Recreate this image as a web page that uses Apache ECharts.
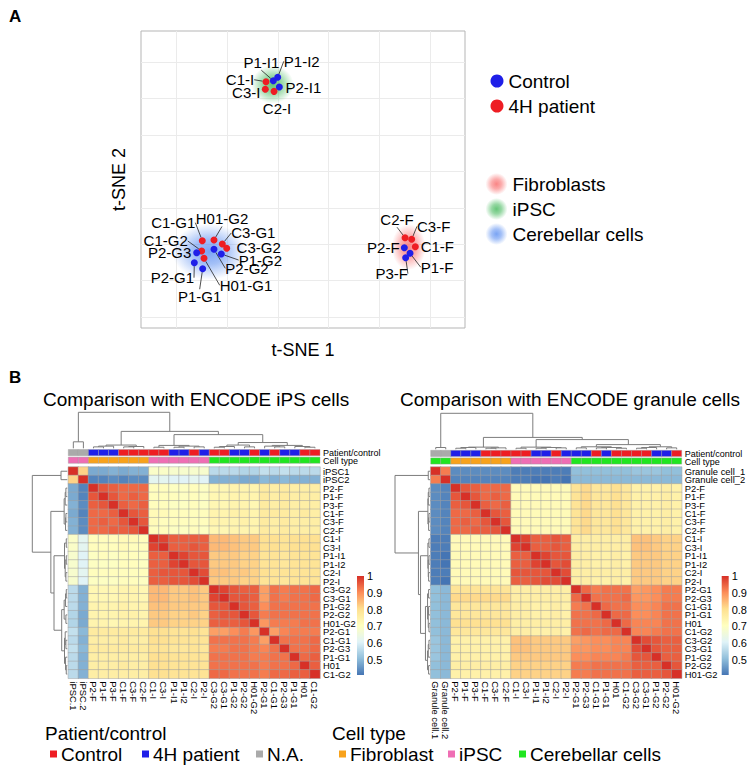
<!DOCTYPE html>
<html><head><meta charset="utf-8">
<script src="https://cdn.jsdelivr.net/npm/echarts@6/dist/echarts.min.js"></script>
<style>html,body{margin:0;padding:0;background:#fff}#c{width:750px;height:765px}</style>
</head><body><div id="c"></div>
<script>
// ================= DATA =================
// Panel A: t-SNE
const tsneNames = ['C1-I','P1-I1','P1-I2','P2-I1','C3-I','C2-I',
  'C1-G1','H01-G2','C3-G1','C3-G2','C1-G2','P2-G3','P2-G2','P1-G2','H01-G1','P2-G1','P1-G1',
  'C2-F','C3-F','C1-F','P2-F','P1-F','P3-F'];
const tsneX = [8.84,9.56,9.99,10.15,8.77,9.63,
  2.58,3.73,4.55,4.98,2.52,2.03,3.73,4.45,2.75,1.80,2.62,
  22.50,23.15,23.51,22.43,22.99,22.56];
const tsneY = [32.32,32.46,32.93,31.59,31.28,31.00,
  10.48,10.58,10.03,9.44,9.07,8.83,9.30,8.65,8.06,7.46,6.63,
  10.89,10.67,9.66,9.52,8.75,8.15];
const tsneGroup = ['Control','4H patient','4H patient','4H patient','Control','Control',
  'Control','Control','Control','Control','Control','4H patient','4H patient','4H patient','Control','4H patient','4H patient',
  'Control','Control','Control','4H patient','4H patient','4H patient'];
const tsneCellType = ['iPSC','iPSC','iPSC','iPSC','iPSC','iPSC',
  'Cerebellar cells','Cerebellar cells','Cerebellar cells','Cerebellar cells','Cerebellar cells','Cerebellar cells',
  'Cerebellar cells','Cerebellar cells','Cerebellar cells','Cerebellar cells','Cerebellar cells',
  'Fibroblasts','Fibroblasts','Fibroblasts','Fibroblasts','Fibroblasts','Fibroblasts'];
const tsneGridX = [0,5,10,15,20,25];
const tsneGridY = [0,5,10,15,20,25,30,35];

// Panel B: heatmaps (lower triangles of symmetric correlation matrices)
const rowsL = ['iPSC1','iPSC2','P2-F','P1-F','P3-F','C1-F','C3-F','C2-F','C1-I','C3-I','P1-I1','P1-I2','C2-I','P2-I',
  'C3-G2','C3-G1','P1-G2','P2-G2','H01-G2','P2-G1','C1-G1','P2-G3','P1-G1','H01','C1-G2'];
const colsL = ['iPSC.1','iPSC.2','P2-F','P1-F','P3-F','C1-F','C3-F','C2-F','C1-I','C3-I','P1-I1','P1-I2','C2-I','P2-I',
  'C3-G2','C3-G1','P1-G2','P2-G2','H01-G2','P2-G1','C1-G1','P2-G3','P1-G1','H01','C1-G2'];
const heatL = [
 [1],
 [0.82,1],
 [0.48,0.43,1],
 [0.48,0.43,0.96,1],
 [0.49,0.44,0.95,0.96,1],
 [0.48,0.43,0.94,0.94,0.95,1],
 [0.49,0.44,0.94,0.95,0.94,0.96,1],
 [0.49,0.44,0.94,0.94,0.95,0.95,0.96,1],
 [0.69,0.62,0.71,0.71,0.71,0.72,0.72,0.71,1],
 [0.69,0.62,0.71,0.71,0.71,0.72,0.71,0.71,0.98,1],
 [0.68,0.61,0.70,0.71,0.70,0.71,0.71,0.70,0.95,0.95,1],
 [0.68,0.61,0.70,0.70,0.70,0.71,0.71,0.70,0.95,0.95,0.98,1],
 [0.68,0.62,0.71,0.71,0.71,0.71,0.71,0.71,0.95,0.96,0.96,0.96,1],
 [0.68,0.61,0.70,0.70,0.70,0.71,0.71,0.70,0.95,0.95,0.96,0.96,0.97,1],
 [0.56,0.49,0.73,0.73,0.73,0.74,0.74,0.73,0.85,0.85,0.83,0.83,0.84,0.83,1],
 [0.56,0.49,0.73,0.73,0.73,0.74,0.74,0.73,0.85,0.85,0.83,0.83,0.84,0.83,0.98,1],
 [0.56,0.49,0.74,0.74,0.74,0.75,0.74,0.74,0.84,0.84,0.83,0.83,0.83,0.83,0.96,0.96,1],
 [0.55,0.48,0.74,0.74,0.74,0.75,0.75,0.74,0.83,0.83,0.82,0.82,0.83,0.82,0.95,0.96,0.96,1],
 [0.55,0.48,0.74,0.74,0.73,0.74,0.74,0.74,0.83,0.83,0.82,0.82,0.82,0.82,0.95,0.95,0.95,0.96,1],
 [0.57,0.50,0.77,0.77,0.77,0.77,0.77,0.77,0.80,0.80,0.79,0.79,0.80,0.79,0.88,0.88,0.90,0.92,0.89,1],
 [0.56,0.49,0.76,0.76,0.76,0.77,0.76,0.76,0.80,0.80,0.79,0.79,0.79,0.79,0.93,0.93,0.93,0.93,0.92,0.88,1],
 [0.57,0.50,0.77,0.77,0.77,0.77,0.77,0.77,0.79,0.79,0.78,0.78,0.79,0.78,0.92,0.92,0.93,0.93,0.92,0.91,0.93,1],
 [0.56,0.49,0.76,0.76,0.76,0.76,0.76,0.76,0.80,0.80,0.79,0.79,0.79,0.79,0.93,0.93,0.93,0.93,0.92,0.92,0.93,0.93,1],
 [0.56,0.49,0.76,0.76,0.76,0.77,0.76,0.76,0.80,0.80,0.79,0.79,0.79,0.79,0.93,0.93,0.93,0.93,0.93,0.92,0.93,0.93,0.94,1],
 [0.56,0.49,0.76,0.76,0.76,0.76,0.76,0.76,0.80,0.80,0.79,0.79,0.79,0.79,0.94,0.94,0.93,0.93,0.93,0.92,0.94,0.94,0.95,0.95,1]
];
const rowsR = ['Granule cell_1','Granule cell_2','P2-F','P1-F','P3-F','C1-F','C3-F','C2-F','C1-I','C3-I','P1-I1','P1-I2','C2-I','P2-I',
  'P2-G1','P2-G3','C1-G1','P1-G1','H01','C1-G2','C3-G2','C3-G1','P1-G2','P2-G2','H01-G2'];
const colsR = ['Granule cell.1','Granule cell.2','P2-F','P1-F','P3-F','C1-F','C3-F','C2-F','C1-I','C3-I','P1-I1','P1-I2','C2-I','P2-I',
  'P2-G1','P2-G3','C1-G1','P1-G1','H01','C1-G2','C3-G2','C3-G1','P1-G2','P2-G2','H01-G2'];
const heatR = [
 [1],
 [0.92,1],
 [0.44,0.43,1],
 [0.44,0.43,0.96,1],
 [0.44,0.43,0.95,0.96,1],
 [0.44,0.43,0.94,0.94,0.95,1],
 [0.44,0.43,0.94,0.95,0.94,0.96,1],
 [0.44,0.43,0.94,0.94,0.95,0.95,0.96,1],
 [0.42,0.42,0.72,0.72,0.72,0.72,0.72,0.72,1],
 [0.42,0.42,0.72,0.72,0.72,0.72,0.72,0.72,0.98,1],
 [0.42,0.41,0.72,0.72,0.72,0.72,0.72,0.72,0.95,0.95,1],
 [0.42,0.41,0.72,0.72,0.72,0.72,0.72,0.72,0.95,0.95,0.98,1],
 [0.42,0.42,0.72,0.72,0.72,0.72,0.72,0.72,0.96,0.96,0.96,0.96,1],
 [0.42,0.41,0.72,0.72,0.72,0.72,0.72,0.72,0.95,0.95,0.96,0.97,0.97,1],
 [0.51,0.50,0.79,0.79,0.79,0.79,0.79,0.79,0.76,0.76,0.76,0.76,0.76,0.76,1],
 [0.51,0.50,0.81,0.81,0.81,0.81,0.81,0.81,0.76,0.76,0.76,0.76,0.76,0.76,0.94,1],
 [0.51,0.50,0.78,0.78,0.78,0.78,0.78,0.78,0.76,0.76,0.75,0.75,0.76,0.75,0.92,0.93,1],
 [0.51,0.50,0.78,0.78,0.78,0.78,0.78,0.78,0.76,0.76,0.75,0.75,0.76,0.75,0.93,0.93,0.94,1],
 [0.51,0.50,0.80,0.80,0.80,0.80,0.80,0.80,0.76,0.76,0.76,0.76,0.76,0.76,0.93,0.93,0.93,0.94,1],
 [0.51,0.50,0.78,0.78,0.78,0.78,0.78,0.78,0.76,0.76,0.75,0.75,0.76,0.75,0.93,0.94,0.93,0.94,0.94,1],
 [0.52,0.50,0.75,0.75,0.75,0.75,0.75,0.75,0.84,0.84,0.83,0.83,0.83,0.83,0.88,0.89,0.90,0.90,0.91,0.91,1],
 [0.52,0.50,0.75,0.75,0.75,0.75,0.75,0.75,0.84,0.84,0.83,0.83,0.83,0.83,0.89,0.89,0.90,0.90,0.91,0.91,0.97,1],
 [0.52,0.50,0.75,0.75,0.75,0.75,0.75,0.75,0.83,0.83,0.83,0.83,0.83,0.83,0.90,0.90,0.91,0.91,0.91,0.92,0.96,0.96,1],
 [0.51,0.50,0.76,0.76,0.76,0.76,0.76,0.76,0.82,0.82,0.82,0.82,0.82,0.82,0.92,0.92,0.93,0.93,0.93,0.93,0.95,0.95,0.95,1],
 [0.51,0.50,0.75,0.75,0.75,0.75,0.75,0.75,0.82,0.82,0.82,0.82,0.82,0.82,0.92,0.92,0.93,0.93,0.93,0.93,0.95,0.95,0.95,0.96,1]
];
// column annotations
const pcL = ['N.A.','N.A.','4H patient','4H patient','4H patient','Control','Control','Control',
  'Control','Control','4H patient','4H patient','Control','4H patient',
  'Control','Control','4H patient','4H patient','Control','4H patient','Control','4H patient','4H patient','Control','Control'];
const ctL = ['iPSC','iPSC','Fibroblast','Fibroblast','Fibroblast','Fibroblast','Fibroblast','Fibroblast',
  'iPSC','iPSC','iPSC','iPSC','iPSC','iPSC',
  'Cerebellar cells','Cerebellar cells','Cerebellar cells','Cerebellar cells','Cerebellar cells','Cerebellar cells',
  'Cerebellar cells','Cerebellar cells','Cerebellar cells','Cerebellar cells','Cerebellar cells'];
const pcR = ['N.A.','N.A.','4H patient','4H patient','4H patient','Control','Control','Control',
  'Control','Control','4H patient','4H patient','Control','4H patient',
  '4H patient','4H patient','Control','4H patient','Control','Control','Control','Control','4H patient','4H patient','Control'];
const ctR = ['Cerebellar cells','Cerebellar cells','Fibroblast','Fibroblast','Fibroblast','Fibroblast','Fibroblast','Fibroblast',
  'iPSC','iPSC','iPSC','iPSC','iPSC','iPSC',
  'Cerebellar cells','Cerebellar cells','Cerebellar cells','Cerebellar cells','Cerebellar cells','Cerebellar cells',
  'Cerebellar cells','Cerebellar cells','Cerebellar cells','Cerebellar cells','Cerebellar cells'];
const annotNames = ['Patient/control','Cell type'];
// dendrograms: [left, right, height]; leaves = matrix index
const treeL_F  = [[[2,3,0.04],4,0.06],[[5,6,0.04],7,0.05],0.09];
const treeL_I  = [[8,9,0.03],[[10,11,0.03],[12,13,0.04],0.06],0.08];
const treeL_Ga = [[[14,15,0.03],16,0.05],[17,18,0.04],0.09];
const treeL_Gb = [[19,[20,21,0.04],0.06],[22,[23,24,0.03],0.05],0.08];
const treeL = [[0,1,0.18],[treeL_F,[treeL_I,[treeL_Ga,treeL_Gb,0.16],0.38],0.47],1];
const treeR_F  = [[[2,3,0.03],4,0.05],[[5,6,0.03],7,0.04],0.06];
const treeR_I  = [[8,9,0.03],[[10,11,0.03],[12,13,0.04],0.05],0.06];
const treeR_Gb = [[14,15,0.04],[[16,17,0.04],[18,19,0.03],0.05],0.07];
const treeR_Ga = [[[20,21,0.03],22,0.05],[23,24,0.04],0.07];
const treeR = [[0,1,0.05],[treeR_F,[treeR_I,[treeR_Gb,treeR_Ga,0.13],0.27],0.33],1];
// colour scale
const cbMin = 0.41, cbMax = 1;
const cbTicks = [0.5,0.6,0.7,0.8,0.9,1];
const legendPC = ['Control','4H patient','N.A.'];
const legendCT = ['Fibroblast','iPSC','Cerebellar cells'];

// ================= LAYOUT / STYLE =================
const FONT = '"Liberation Sans", Arial, Helvetica, sans-serif';
const palette = ['#4575B4','#91BFDB','#E0F3F8','#FFFFBF','#FEE090','#FC8D59','#D73027'];
const pcColors = {'Control':'#ee1d23','4H patient':'#1f1fe8','N.A.':'#aaaaaa'};
const ctColors = {'Fibroblast':'#f8a21b','iPSC':'#ef6eb4','Cerebellar cells':'#20e620'};
const ptColors = {'Control':'#ee1d23','4H patient':'#1f1fe8'};
const legendIconColorsA = {'Control':'#1f1fe8','4H patient':'#ee1d23'}; // as printed in the figure legend
const glowRGB = {'Fibroblasts':'248,95,95','iPSC':'55,180,80','Cerebellar cells':'80,135,240'};
const glowSize = {'Fibroblasts':[34,46],'iPSC':[42,38],'Cerebellar cells':[74,56]};
const labelDx = [-26,-12,24,24,-19,3, -29,8,31,32,-36,-27,33,39,42,-22,-3, -8,22,22,-21,27,-14];
const labelDy = [-2,-18,-16,0,3,17, -18,-21,-11,-1,-10,0,19,6,27,15,28, -18,-13,0,0,14,16];
const labelLineOn = [1,1,1,0,0,0, 1,1,1,0,1,0,1,1,1,1,1, 1,1,0,0,1,1];

const grids = [
 {left:141,top:31,width:324,height:297, show:true, borderColor:'#b5b5b5', borderWidth:1}, //0 tsne
 {left:68.3,top:412.3,width:251.7,height:36},   //1 L col dendro
 {left:32.3,top:467,width:35,height:211.3},     //2 L row dendro
 {left:68.3,top:449.5,width:251.7,height:15.2}, //3 L annot
 {left:68.3,top:467,width:251.7,height:211.3},  //4 L heat
 {left:357,top:576,width:7,height:99},          //5 L colorbar
 {left:430.7,top:413.3,width:251,height:36},    //6 R col dendro
 {left:395,top:467,width:35,height:211.3},      //7 R row dendro
 {left:430.7,top:450.3,width:251,height:15.2},  //8 R annot
 {left:430.7,top:467,width:251,height:211.3},   //9 R heat
 {left:721.7,top:576,width:7,height:99}         //10 R colorbar
].map(g=>Object.assign({outerBoundsMode:'none', containLabel:false}, g));

function hidVal(gi,min,max,extra){return Object.assign({gridIndex:gi,type:'value',min,max,show:false},extra||{});}
function hidCat(gi,data,extra){return Object.assign({gridIndex:gi,type:'category',data,show:false},extra||{});}
const catLabel = {fontSize:9.4,color:'#000',fontFamily:FONT,interval:0,margin:3};
const annLabel = {fontSize:9,color:'#000',fontFamily:FONT,interval:0,margin:3,lineHeight:8};

const xAxes = [
 {gridIndex:0,type:'value',min:-3.44,max:28.39,axisLabel:{show:false},axisLine:{show:false},
  axisTick:{show:false,customValues:tsneGridX},splitLine:{show:true,lineStyle:{color:'#ebebeb',width:1}},
  name:'t-SNE 1',nameLocation:'middle',nameGap:13,nameTextStyle:{fontSize:18,color:'#000',fontFamily:FONT}},
 hidVal(1,0,25), hidVal(2,0,1,{inverse:true}), hidCat(3,colsL),
 {gridIndex:4,type:'category',data:colsL,position:'bottom',axisLine:{show:false},axisTick:{show:false},
  axisLabel:Object.assign({rotate:-90},catLabel)},
 hidVal(5,0,1),
 hidVal(6,0,25), hidVal(7,0,1,{inverse:true}), hidCat(8,colsR),
 {gridIndex:9,type:'category',data:colsR,position:'bottom',axisLine:{show:false},axisTick:{show:false},
  axisLabel:Object.assign({rotate:-90},catLabel)},
 hidVal(10,0,1)
];
function cbarY(gi){return {gridIndex:gi,type:'value',min:cbMin,max:cbMax,position:'right',
  axisLine:{show:false},axisTick:{show:false},splitLine:{show:false},
  axisLabel:{customValues:cbTicks,fontSize:11,color:'#000',fontFamily:FONT,margin:3}};}
const yAxes = [
 {gridIndex:0,type:'value',min:-1.51,max:39.29,axisLabel:{show:false},axisLine:{show:false},
  axisTick:{show:false,customValues:tsneGridY},splitLine:{show:true,lineStyle:{color:'#ebebeb',width:1}},
  name:'t-SNE 2',nameLocation:'middle',nameGap:13,nameTextStyle:{fontSize:18,color:'#000',fontFamily:FONT}},
 hidVal(1,0,1), hidVal(2,0,25,{inverse:true}),
 {gridIndex:3,type:'category',data:annotNames,inverse:true,position:'right',axisLine:{show:false},axisTick:{show:false},axisLabel:annLabel},
 {gridIndex:4,type:'category',data:rowsL,inverse:true,position:'right',axisLine:{show:false},axisTick:{show:false},axisLabel:catLabel},
 cbarY(5),
 hidVal(6,0,1), hidVal(7,0,25,{inverse:true}),
 {gridIndex:8,type:'category',data:annotNames,inverse:true,position:'right',axisLine:{show:false},axisTick:{show:false},axisLabel:annLabel},
 {gridIndex:9,type:'category',data:rowsR,inverse:true,position:'right',axisLine:{show:false},axisTick:{show:false},axisLabel:catLabel},
 cbarY(10)
];

// ================= SERIES BUILDERS =================
function glowColor(name){
  const c = glowRGB[name];
  return new echarts.graphic.RadialGradient(0.5,0.5,0.5,[
    {offset:0,color:'rgba('+c+',0.95)'},{offset:0.45,color:'rgba('+c+',0.65)'},{offset:1,color:'rgba('+c+',0)'}]);
}
function centroid(ct){
  let sx=0,sy=0,n=0;
  tsneCellType.forEach((c,i)=>{ if(c===ct){sx+=tsneX[i];sy+=tsneY[i];n++;} });
  return [sx/n, sy/n];
}
function glowSeries(name){
  return {type:'scatter',name,xAxisIndex:0,yAxisIndex:0,z:1,silent:true,
    symbol:'circle',symbolSize:glowSize[name],itemStyle:{color:glowColor(name)},
    data:[centroid(name)],emphasis:{disabled:true}};
}
function pointSeries(group){
  const idx=[]; tsneGroup.forEach((g,i)=>{ if(g===group) idx.push(i); });
  return {type:'scatter',name:group,xAxisIndex:0,yAxisIndex:0,z:5,symbolSize:7,
    itemStyle:{color:ptColors[group],opacity:1},
    data: idx.map(i=>({name:tsneNames[i],value:[tsneX[i],tsneY[i]],labelLine:{show:!!labelLineOn[i]}})),
    label:{show:true,position:'inside',formatter:'{b}',fontSize:15,color:'#000',opacity:1,
      textBorderWidth:0,textBorderColor:'transparent',textShadowBlur:0,fontFamily:FONT},
    labelLine:{show:true,lineStyle:{color:'#222',width:0.8,opacity:1}},
    labelLayout:(p)=>{const g=idx[p.dataIndex];return {dx:labelDx[g],dy:labelDy[g]};},
    emphasis:{disabled:true}};
}
function dendroSegs(tree){
  const segs=[];
  (function walk(n){
    if(typeof n==='number') return [n+0.5,0];
    const a=walk(n[0]), b=walk(n[1]), h=n[2];
    segs.push([a[0],a[1],a[0],h],[a[0],h,b[0],h],[b[0],h,b[0],b[1]]);
    return [(a[0]+b[0])/2,h];
  })(tree);
  return segs;
}
function dendroSeries(gi,tree,horizontal){
  const segs=dendroSegs(tree);
  const data = horizontal ? segs.map(s=>[s[1],s[0],s[3],s[2]]) : segs;
  return {type:'custom',xAxisIndex:gi,yAxisIndex:gi,data,silent:true,clip:false,
    encode:{x:[0,2],y:[1,3]},
    renderItem:(params,api)=>{
      const a=api.coord([api.value(0),api.value(1)]), b=api.coord([api.value(2),api.value(3)]);
      return {type:'line',shape:{x1:a[0],y1:a[1],x2:b[0],y2:b[1]},style:{stroke:'#7d7d7d',lineWidth:1}};
    }};
}
function annotSeries(gi,pc,ct){
  const data=[]; for(let c=0;c<pc.length;c++){data.push([c,0]);data.push([c,1]);}
  return {type:'custom',xAxisIndex:gi,yAxisIndex:gi,data,silent:true,
    renderItem:(params,api)=>{
      const c=api.value(0), r=api.value(1);
      const p=api.coord([c,r]), s=api.size([1,1]);
      const col = r===0 ? pcColors[pc[c]] : ctColors[ct[c]];
      return {type:'rect',shape:{x:p[0]-s[0]/2,y:p[1]-s[1]/2,width:s[0],height:s[1]-1.4},
        style:{fill:col,stroke:'#9a9a9a',lineWidth:0.4}};
    }};
}
function heatData(lower){
  const n=lower.length,out=[];
  for(let i=0;i<n;i++)for(let j=0;j<n;j++) out.push([j,i,i>=j?lower[i][j]:lower[j][i]]);
  return out;
}
function heatSeries(gi,lower){
  return {type:'heatmap',xAxisIndex:gi,yAxisIndex:gi,data:heatData(lower),silent:true,
    itemStyle:{borderColor:'#a0a0a0',borderWidth:0.5},emphasis:{disabled:true},progressive:0};
}
function cbarSeries(gi){
  return {type:'custom',xAxisIndex:gi,yAxisIndex:gi,data:[[0,cbMin,1,cbMax]],silent:true,
    renderItem:(params,api)=>{
      const a=api.coord([0,cbMax]), b=api.coord([1,cbMin]);
      const stops=palette.slice().reverse().map((c,k,arr)=>({offset:k/(arr.length-1),color:c}));
      return {type:'rect',shape:{x:a[0],y:a[1],width:b[0]-a[0],height:b[1]-a[1]},
        style:{fill:new echarts.graphic.LinearGradient(0,0,0,1,stops)}};
    }};
}

const series = [
  glowSeries('Fibroblasts'), glowSeries('iPSC'), glowSeries('Cerebellar cells'),   //0-2
  pointSeries('Control'), pointSeries('4H patient'),                                 //3-4
  dendroSeries(1,treeL,false), dendroSeries(2,treeL,true), annotSeries(3,pcL,ctL),  //5-7
  heatSeries(4,heatL), cbarSeries(5),                                                //8-9
  dendroSeries(6,treeR,false), dendroSeries(7,treeR,true), annotSeries(8,pcR,ctR),  //10-12
  heatSeries(9,heatR), cbarSeries(10)                                                //13-14
];

// ================= TEXT / LEGEND GRAPHICS =================
function txt(text,x,y,size,opts){
  const o=opts||{};
  return {type:'text',z:100,silent:true,
    style:{text,x,y,fill:'#000',fontSize:size,fontFamily:FONT,fontWeight:o.bold?'bold':'normal',
      align:o.align||'left',textAlign:o.align||'left',verticalAlign:'middle',textVerticalAlign:'middle'}};
}
function sq(x,y,color){return {type:'rect',z:100,silent:true,shape:{x,y:y-3.5,width:7,height:7},style:{fill:color}};}
const legPCx = [50,142,256], legCTx = [339,448,519];
const graphics = [
  txt('A',9,16,17,{bold:true}),
  txt('B',9,377,17,{bold:true}),
  txt('Comparison with ENCODE iPS cells',43,399,19),
  txt('Comparison with ENCODE granule cells',400,399,19),
  txt('Patient/control',45,733,19),
  txt('Cell type',332,733,19)
];
legendPC.forEach((n,i)=>{graphics.push(sq(legPCx[i],754,pcColors[n]));graphics.push(txt(n,legPCx[i]+11,754,19));});
legendCT.forEach((n,i)=>{graphics.push(sq(legCTx[i],754,ctColors[n]));graphics.push(txt(n,legCTx[i]+11,754,19));});

const option = {
  animation:false,
  backgroundColor:'#fff',
  textStyle:{fontFamily:FONT},
  grid:grids, xAxis:xAxes, yAxis:yAxes,
  visualMap:[
    {show:false,type:'continuous',seriesIndex:8,min:cbMin,max:cbMax,dimension:2,inRange:{color:palette}},
    {show:false,type:'continuous',seriesIndex:13,min:cbMin,max:cbMax,dimension:2,inRange:{color:palette}}
  ],
  legend:[
    {orient:'vertical',left:485.5,top:66,itemWidth:13,itemHeight:13,itemGap:5,icon:'circle',selectedMode:false,
     textStyle:{fontSize:19,color:'#000',fontFamily:FONT,lineHeight:20},
     data:['Control','4H patient'].map(n=>({name:n,itemStyle:{color:legendIconColorsA[n]}}))},
    {orient:'vertical',left:480.5,top:168,itemWidth:22,itemHeight:22,itemGap:3,icon:'circle',selectedMode:false,
     textStyle:{fontSize:19,color:'#000',fontFamily:FONT,lineHeight:20},
     data:['Fibroblasts','iPSC','Cerebellar cells'].map(n=>({name:n,itemStyle:{color:glowColor(n)}}))}
  ],
  graphic:{elements:graphics},
  series
};
const chart = echarts.init(document.getElementById('c'),null,{renderer:'svg',width:750,height:765});
chart.setOption(option);
</script>
</body></html>
